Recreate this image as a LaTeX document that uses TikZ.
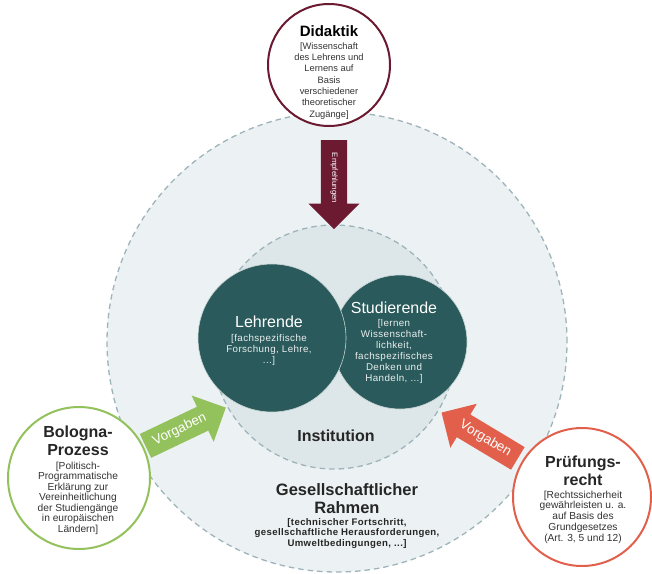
\documentclass[tikz,border=0pt]{standalone}
\usepackage{fontspec}
\setmainfont{Liberation Sans}
\usetikzlibrary{shapes.arrows}

\definecolor{rahmen}{HTML}{ECF2F3}
\definecolor{institution}{HTML}{DDE7E9}
\definecolor{strich}{HTML}{9FB3BA}
\definecolor{petrol}{HTML}{2A5A5B}
\definecolor{weinrot}{HTML}{6B1A31}
\definecolor{gruen}{HTML}{93C15C}
\definecolor{koralle}{HTML}{E2604B}
\definecolor{schrift}{HTML}{333333}

\newcommand{\fs}[2]{\fontsize{#1}{#2}\selectfont}
\newcommand{\weit}{\addfontfeature{LetterSpace=4}}

\begin{document}
\begin{tikzpicture}[x=1pt,y=-1pt,
	ring/.style={circle,draw=strich,dash pattern=on 5.5pt off 4pt,line width=1.3pt,inner sep=0pt},
	akteur/.style={circle,fill=petrol,draw=white!75!petrol,line width=0.6pt,inner sep=0pt},
	quelle/.style={circle,fill=white,line width=2pt,inner sep=0pt},
	pfeil/.style={single arrow,inner xsep=0pt,single arrow head extend=12.5pt,single arrow tip angle=90,minimum height=89pt,text=white,anchor=tail},
	titel/.style={font=\bfseries\fs{16}{18},align=center,anchor=base,inner sep=0pt},
	info/.style={font=\fs{10}{10.6},align=center,anchor=base,inner sep=0pt,text=schrift}]
	\useasboundingbox (0,0) rectangle (652,573);
	% Rahmen und Institution
	\node[ring,fill=rahmen,minimum size=460pt] (rahmen) at (337,342) {};
	\node[ring,fill=institution,minimum size=244pt] (inst) at (334,347) {};
	\node[akteur,minimum size=134pt] (stud) at (400,342) {};
	\node[akteur,minimum size=148pt] (lehr) at (272,338) {};
	% Einflussgroessen
	\node[quelle,draw=weinrot,minimum size=122pt] (didaktik) at (329,65) {};
	\node[quelle,draw=gruen,minimum size=142pt] (bologna) at (79,478) {};
	\node[quelle,draw=koralle,minimum size=138pt] (pruefung) at (582,497) {};
	% Pfeile
	\node[pfeil,fill=weinrot,rotate=-90,font=\fs{7.8}{9},text height=5.5pt,text depth=1.7pt,inner ysep=9.4pt] (empf) at (334,140) {Empfehlungen};
	\node[pfeil,fill=gruen,rotate=25.5,font=\fs{13.5}{15},text height=9.8pt,text depth=3pt,inner ysep=6.6pt] (vorg-b) at (145.3,446) {Vorgaben};
	\node[pfeil,fill=koralle,rotate=-31,shape border rotate=180,font=\fs{13.5}{15},text height=9.8pt,text depth=3pt,inner ysep=6.6pt] (vorg-p) at (518,458.5) {Vorgaben};
	% Texte (base = Grundlinie der letzten Zeile)
	\node[titel,font=\bfseries\fs{15}{18}] (didaktik-t) at (329,36) {Didaktik};
	\node[info,font=\fs{9.3}{11.3}] (didaktik-i) at (329,117) {[Wissenschaft\\des Lehrens und\\Lernens auf\\Basis\\verschiedener\\theoretischer\\Zugänge]};
	\node[titel,font=\fs{16}{18},text=white] (lehr-t) at (269,327) {Lehrende};
	\node[info,font=\fs{9.8}{11}\weit,text=white!90!petrol] (lehr-i) at (269,363) {[fachspezifische\\Forschung, Lehre,\\...]};
	\node[titel,font=\fs{16}{18},text=white] (stud-t) at (394,313) {Studierende};
	\node[info,font=\fs{9.8}{11.1}\weit,text=white!90!petrol] (stud-i) at (394,381.5) {[lernen\\Wissenschaft-\\lichkeit,\\fachspezifisches\\Denken und\\Handeln, ...]};
	\node[titel,text=black!85] (inst-t) at (336,441) {Institution};
	\node[titel,font=\bfseries\fs{16.5}{18},text=black!85] (rahmen-t) at (347,513) {Gesellschaftlicher\\Rahmen};
	\node[info,font=\bfseries\fs{9.6}{10.5}\weit,text=black!85] (rahmen-i) at (347,546) {[technischer Fortschritt,\\gesellschaftliche Herausforderungen,\\Umweltbedingungen, ...]};
	\node[titel,text=black!85] (bologna-t) at (78,455) {Bologna-\\Prozess};
	\node[info,font=\fs{10.2}{10.5}] (bologna-i) at (78,532) {[Politisch-\\Programmatische\\Erklärung zur\\Vereinheitlichung\\der Studiengänge\\in europäischen\\Ländern]};
	\node[titel,text=black!85] (pruefung-t) at (583,485.7) {Prüfungs-\\recht};
	\node[info,font=\fs{10.2}{10.75}] (pruefung-i) at (583,541) {[Rechtssicherheit\\gewährleisten u. a.\\auf Basis des\\Grundgesetzes\\(Art. 3, 5 und 12)};
\end{tikzpicture}
\end{document}
